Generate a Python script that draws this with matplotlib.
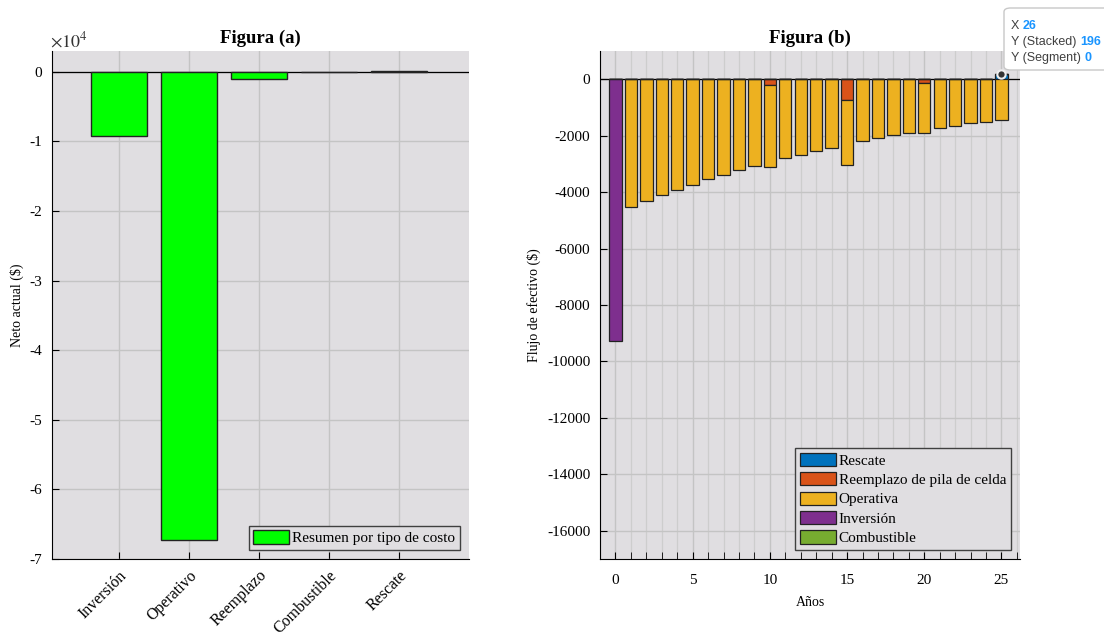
import numpy as np
import matplotlib.pyplot as plt
from matplotlib.ticker import FuncFormatter, MultipleLocator
from matplotlib.patches import FancyBboxPatch

plt.rcParams['font.family'] = ['Liberation Serif', 'DejaVu Serif']
plt.rcParams['mathtext.fontset'] = 'stix'
plt.rcParams['axes.unicode_minus'] = False

# flujo de efectivo por año (valores presentes, $)
anios = np.arange(0, 26)
rescate = [0] * 25 + [196]
reemplazo = [0] * 10 + [-190] + [0] * 4 + [-730] + [0] * 4 + [-120] + [0] * 5
operativa = [0, -4530, -4320, -4110, -3920, -3730, -3550, -3390, -3220, -3080,
             -2920, -2800, -2670, -2540, -2420, -2310, -2180, -2090, -1990, -1900,
             -1800, -1720, -1640, -1550, -1500, -1430]
inversion = [-9280] + [0] * 25
combustible = [0] * 26

series = [rescate, reemplazo, operativa, inversion, combustible]
nombres = ['Rescate', 'Reemplazo de pila de celda', 'Operativa', 'Inversión', 'Combustible']
colores = ['#0072BD', '#D95319', '#EDB120', '#7E2F8E', '#77AC30']

# resumen por tipo de costo
tipos = ['Inversión', 'Operativo', 'Reemplazo', 'Combustible', 'Rescate']
resumen = [sum(inversion), sum(operativa), sum(reemplazo), sum(combustible), sum(rescate)]

fondo = '#e0dee1'
fig = plt.figure(figsize=(11.04, 6.41), dpi=100)
ax1 = fig.add_axes([0.0471, 0.1279, 0.3777, 0.7925])
ax2 = fig.add_axes([0.5435, 0.1279, 0.3804, 0.7925])

for ax in (ax1, ax2):
    ax.set_facecolor(fondo)
    ax.set_axisbelow(True)
    ax.spines['top'].set_visible(False)
    ax.spines['right'].set_visible(False)
    ax.tick_params(direction='in', labelsize=11, length=5, pad=7)
    ax.axhline(0, color='black', lw=0.9, zorder=1)

leyenda = dict(loc='lower right', fontsize=11, handlelength=2.35, handleheight=0.95,
               handletextpad=0.2, labelspacing=0.3, borderpad=0.3, borderaxespad=0.6,
               fancybox=False, edgecolor='#404040', facecolor=fondo, framealpha=1)

# ---- Figura (a)
pos = np.arange(1, len(tipos) + 1)
ax1.bar(pos, resumen, width=0.8, color='#00ff00', edgecolor='#222222', lw=1,
        label='Resumen por tipo de costo', zorder=2)
ax1.set_xlim(0.04, 6)
ax1.set_ylim(-70000, 3000)
ax1.set_xticks(pos)
ax1.set_xticklabels(tipos, rotation=45, ha='right', rotation_mode='anchor', fontsize=11.5)
ax1.tick_params(axis='x', pad=6)
ax1.set_yticks(np.arange(-70000, 1, 10000))
ax1.yaxis.set_major_formatter(FuncFormatter(lambda v, p: f'{v / 1e4:g}'))
ax1.text(-0.005, 1.0, r'$\times 10^{4}$', transform=ax1.transAxes, fontsize=13,
         ha='left', va='bottom', color='#333333')
ax1.grid(True, color='#c4c4c4', lw=1)
ax1.set_ylabel('Neto actual ($)', fontsize=10)
ax1.set_title('Figura (a)', fontsize=13.5, fontweight='bold', pad=6)
ax1.legend(**leyenda)

# ---- Figura (b): barras apiladas, positivos y negativos por separado
base_pos = np.zeros(len(anios))
base_neg = np.zeros(len(anios))
for vals, nom, col in zip(series, nombres, colores):
    v = np.array(vals, dtype=float)
    bottom = np.where(v >= 0, base_pos, base_neg)
    ax2.bar(anios, v, bottom=bottom, width=0.8, color=col, edgecolor='#222222',
            lw=0.9, label=nom, zorder=2)
    base_pos += np.where(v > 0, v, 0)
    base_neg += np.where(v < 0, v, 0)

ax2.set_xlim(-1, 26.2)
ax2.set_ylim(-17000, 1000)
ax2.xaxis.set_major_locator(MultipleLocator(5))
ax2.xaxis.set_minor_locator(MultipleLocator(1))
ax2.tick_params(which='minor', direction='in', length=5)
ax2.tick_params(axis='x', pad=11)
ax2.set_yticks(np.arange(-16000, 1, 2000))
ax2.grid(True, which='major', color='#c4c4c4', lw=1)
ax2.grid(True, which='minor', axis='x', color='#cdcdcd', lw=0.9)
ax2.set_xlabel('Años', fontsize=10, labelpad=6)
ax2.set_ylabel('Flujo de efectivo ($)', fontsize=10)
ax2.set_title('Figura (b)', fontsize=13.5, fontweight='bold', pad=6)
ax2.legend(**leyenda)

# marcador del dato seleccionado
ax2.plot(anios[-1], base_pos[-1], 'o', ms=6, mfc='#333333', mec='#eeeeee', mew=1.5,
         zorder=5, clip_on=False)

# cuadro del dato seleccionado
caja = FancyBboxPatch((1004 / 1104, 1 - 70 / 641), 110 / 1104, 62 / 641,
                      boxstyle='round,pad=0,rounding_size=0.006',
                      transform=fig.transFigure, facecolor='white',
                      edgecolor='#c8c8c8', lw=1, zorder=10)
fig.patches.append(caja)
filas = [('X', '26'), ('Y (Stacked)', '196'), ('Y (Segment)', '0')]
for i, (etq, val) in enumerate(filas):
    y = 1 - (26 + 16 * i) / 641
    t = fig.text(1011 / 1104, y, etq + ' ', family=['Liberation Sans', 'DejaVu Sans'],
                 fontsize=9, color='#404040', va='center', zorder=11)
    fig.canvas.draw()
    bb = t.get_window_extent()
    fig.text(bb.x1 / 1104, y, val, family=['Liberation Sans', 'DejaVu Sans'],
             fontsize=9, color='#1a95ff', fontweight='bold', va='center', zorder=11)

fig.savefig('out.png', dpi=100)
